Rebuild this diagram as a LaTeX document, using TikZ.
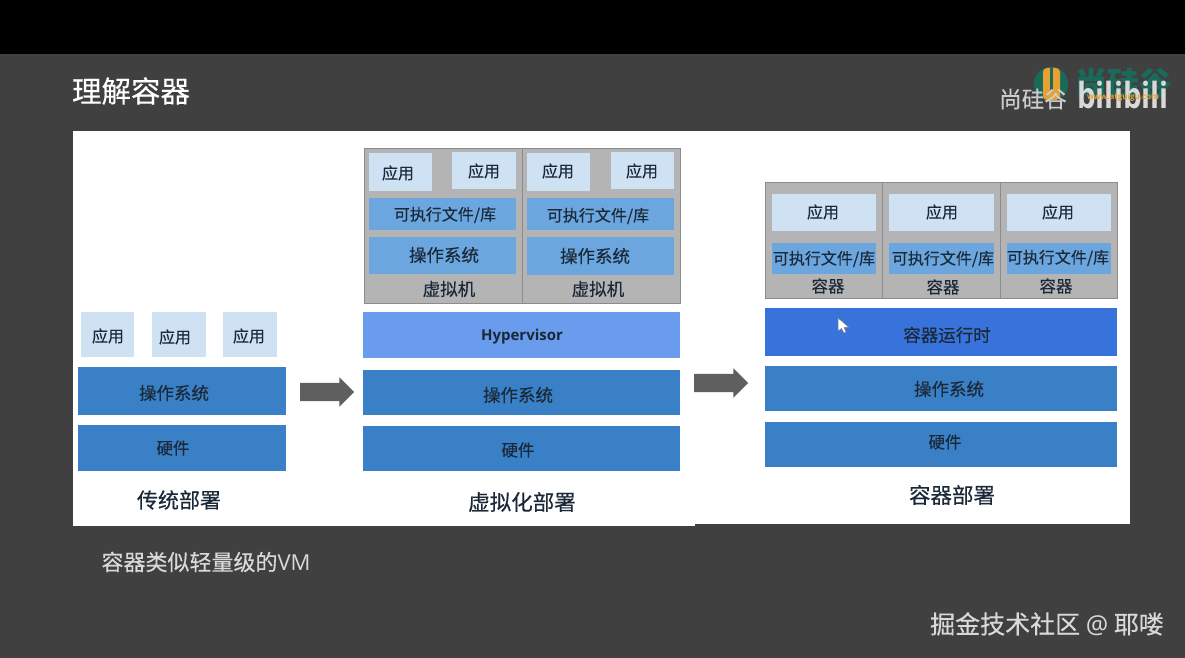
\documentclass[tikz,border=0pt]{standalone}
\usepackage{fontspec}
\setmainfont{Noto Sans CJK SC}[FakeBold=0.3]
\newfontfamily\latinf{Open Sans}
\usetikzlibrary{shapes.arrows}
\definecolor{bgc}{HTML}{404040}
\definecolor{appc}{HTML}{CFE2F3}
\definecolor{midc}{HTML}{6BA6DE}
\definecolor{layc}{HTML}{3A80C6}
\definecolor{hypc}{HTML}{699CEC}
\definecolor{rtc}{HTML}{3873DB}
\definecolor{grayc}{HTML}{B4B4B4}
\definecolor{edgec}{HTML}{8C8C8C}
\definecolor{txtc}{HTML}{1A2838}
\definecolor{arrc}{HTML}{5F5F5F}
\definecolor{tealc}{HTML}{1A6A5C}
\definecolor{orc}{HTML}{E8A030}
\tikzset{
  x=1pt,y=-1pt,
  lab/.style={font=\fontsize{#1}{#1}\selectfont,text=txtc,inner sep=0pt},
  flow/.style={single arrow,fill=arrc,draw=none,inner xsep=0pt,inner ysep=9pt,minimum height=54pt,minimum width=29pt,single arrow head extend=5.5pt,single arrow head indent=0pt},
  wtxt/.style={text=#1,inner sep=0pt}
}
% \bx{name}{x0}{y0}{x1}{y1}{fill}
\newcommand{\bx}[6]{\fill[#6] (#2,#3) rectangle (#4,#5); \coordinate (#1) at ({(#2+#4)/2},{(#3+#5)/2});}
\begin{document}
\begin{tikzpicture}
\useasboundingbox (0,0) rectangle (1185,658);
\fill[bgc] (0,0) rectangle (1185,658);
\fill[black] (0,0) rectangle (1185,54);
\fill[white] (73,131) rectangle (695,526);
\fill[white] (695,131) rectangle (1130,524);
% title
\node[wtxt=white,font=\fontsize{29.5}{29.5}\selectfont] (title) at (131,91) {理解容器};
% logo
\fill[tealc] (1051,84) circle (17);
\node[wtxt=tealc,font=\fontsize{32}{32}\selectfont\bfseries] (teal) at (1123,83) {尚硅谷};
\fill[orc,rounded corners=4pt] (1043,68) rectangle (1060,100);
\fill[tealc] (1050,68) rectangle (1053,90);
\node[wtxt={white!80!black},font=\fontsize{22.5}{22.5}\selectfont] (shang) at (1033,99) {尚硅谷};
\node[wtxt={white!85!black},font=\latinf\fontsize{36}{36}\selectfont\bfseries,xscale=.82] (bili) at (1123,95) {bilibili};
\node[wtxt=orc,font=\latinf\fontsize{8}{8}\selectfont\bfseries] (www) at (1123,97) {www.atguigu.com};
% left stack
\bx{a1}{81}{312}{134}{357}{appc}
\bx{a2}{152}{312}{206}{357}{appc}
\bx{a3}{223}{312}{277}{357}{appc}
\bx{los}{78}{367}{286}{415}{layc}
\bx{lhw}{78}{425}{286}{471}{layc}
\node[lab=16] (ta1) at (108,336) {应用};
\node[lab=16] (ta2) at (175,337) {应用};
\node[lab=16] (ta3) at (249,336) {应用};
\node[lab=17.5] (tlos) at (174,393) {操作系统};
\node[lab=16.5] (tlhw) at (173,448) {硬件};
\node[lab=21] (tl) at (179,500) {传统部署};
% middle stack
\fill[grayc,draw=edgec] (364,148) rectangle (680,303);
\draw[edgec] (522.5,148) -- (522.5,303);
\bx{m1}{369}{153}{432}{191}{appc}
\bx{m2}{452}{152}{516}{189}{appc}
\bx{m3}{527}{153}{590}{191}{appc}
\bx{m4}{611}{152}{674}{189}{appc}
\bx{m5}{369}{198}{516}{230}{midc}
\bx{m6}{527}{198}{674}{230}{midc}
\bx{m7}{369}{237}{516}{274}{midc}
\bx{m8}{527}{237}{674}{275}{midc}
\node[lab=16] (tm1) at (398,173) {应用};
\node[lab=16] (tm2) at (484,171) {应用};
\node[lab=16] (tm3) at (558,171) {应用};
\node[lab=16] (tm4) at (642,171) {应用};
\node[lab=16] (tm5) at (445,215) {可执行文件/库};
\node[lab=16] (tm6) at (598,216) {可执行文件/库};
\node[lab=17.5] (tm7) at (444,255) {操作系统};
\node[lab=17.5] (tm8) at (595,256) {操作系统};
\node[lab=17.5] (tm9) at (449,289) {虚拟机};
\node[lab=17.5] (tm10) at (598,289) {虚拟机};
\bx{hyp}{363}{312}{680}{358}{hypc}
\bx{mos}{363}{370}{680}{415}{layc}
\bx{mhw}{363}{426}{680}{471}{layc}
\node[lab=15,font=\latinf\fontsize{15}{15}\selectfont\bfseries] (thyp) at (522,337) {Hypervisor};
\node[lab=17.5] (tmos) at (518,395) {操作系统};
\node[lab=16.5] (tmhw) at (518,450) {硬件};
\node[lab=21.5] (tm) at (522,502) {虚拟化部署};
% right stack
\fill[grayc,draw=edgec] (765,182) rectangle (1117,298);
\draw[edgec] (882.5,182) -- (882.5,298);
\draw[edgec] (1000,182) -- (1000,298);
\bx{r1}{772}{194}{876}{231}{appc}
\bx{r2}{889}{194}{994}{231}{appc}
\bx{r3}{1007}{194}{1111}{231}{appc}
\bx{r4}{772}{243}{876}{274}{midc}
\bx{r5}{889}{243}{994}{274}{midc}
\bx{r6}{1007}{243}{1111}{274}{midc}
\node[lab=16] (tr1) at (823,212) {应用};
\node[lab=16] (tr2) at (942,212) {应用};
\node[lab=16] (tr3) at (1058,212) {应用};
\node[lab=16] (tr4) at (824,259) {可执行文件/库};
\node[lab=16] (tr5) at (943,259) {可执行文件/库};
\node[lab=16] (tr6) at (1058,258) {可执行文件/库};
\node[lab=16.5] (tr7) at (828,286) {容器};
\node[lab=16.5] (tr8) at (943,287) {容器};
\node[lab=16.5] (tr9) at (1056,286) {容器};
\bx{rt}{765}{308}{1117}{356}{rtc}
\bx{ros}{765}{366}{1117}{411}{layc}
\bx{rhw}{765}{422}{1117}{467}{layc}
\node[lab=17.5] (trt) at (947,335) {容器运行时};
\node[lab=17.5] (tros) at (949,389) {操作系统};
\node[lab=16.5] (trhw) at (945,442) {硬件};
\node[lab=21.5] (tr) at (952,495) {容器部署};
% cursor
\fill[white,draw=gray,line width=.5pt] (838,318) -- (838,331) -- (841.5,328.5) -- (844,333) -- (846,332) -- (844,327.5) -- (848.5,327) -- cycle;
% arrows
\node[flow] (arr1) at (322.5,392) {};
\node[flow] (arr2) at (716.5,383) {};
% captions
\node[wtxt={white!85!black},font=\fontsize{22}{22}\selectfont] (cap) at (206,562) {容器类似轻量级的{\latinf VM}};
\node[wtxt={white!85!black},font=\fontsize{25}{25}\selectfont] (wm) at (1047,624) {掘金技术社区 {\latinf @} 耶喽};
\end{tikzpicture}
\end{document}
